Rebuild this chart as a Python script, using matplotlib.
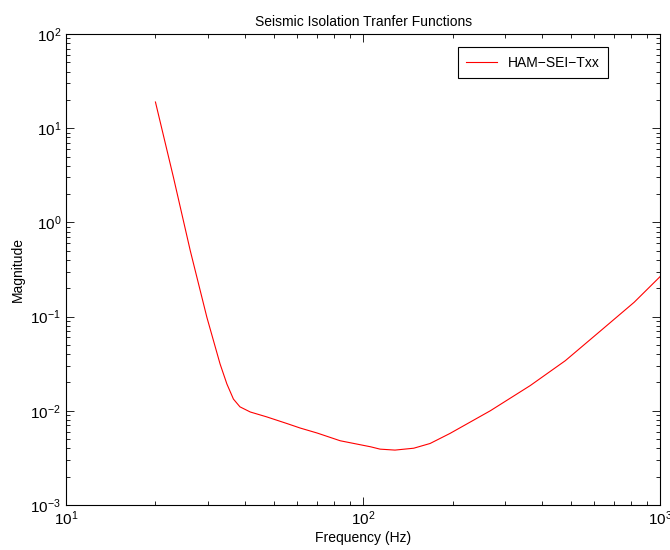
import matplotlib
matplotlib.use("Agg")
import matplotlib.pyplot as plt
import numpy as np

plt.rcParams['font.family'] = ['Liberation Sans', 'DejaVu Sans']
plt.rcParams['mathtext.fontset'] = 'custom'
plt.rcParams['mathtext.rm'] = 'Liberation Sans'
plt.rcParams['mathtext.it'] = 'Liberation Sans:italic'

# values
freq = [20, 23, 26.2, 29.8, 33, 34.8, 36.6, 38.5, 41.7, 47.4, 55.5, 61.4,
        70, 83.7, 106, 114, 128, 148, 168, 196, 268, 365, 479, 631, 817, 1000]
mag = [19, 3.0, 0.50, 0.098, 0.0314, 0.0192, 0.0133, 0.0110, 0.0097, 0.0086,
       0.0073, 0.00655, 0.0058, 0.0048, 0.00414, 0.00391, 0.00382, 0.0040,
       0.00449, 0.00574, 0.0100, 0.0185, 0.034, 0.071, 0.142, 0.267]
series_name = "HAM\u2212SEI\u2212Txx"

fig = plt.figure(figsize=(6.7, 5.5), dpi=100)
ax = fig.add_axes([0.0985, 0.082, 0.887, 0.856])

ax.loglog(freq, mag, color='#ff0000', linewidth=0.8, label=series_name)
ax.set_xlim(10, 1000)
ax.set_ylim(1e-3, 1e2)

ax.tick_params(which='both', direction='in', top=True, right=True, labelsize=11)
ax.tick_params(which='major', length=6, width=0.6)
ax.tick_params(which='minor', length=3, width=0.6)
for sp in ax.spines.values():
    sp.set_linewidth(0.8)

ax.set_title("Seismic Isolation Tranfer Functions", fontsize=10)
ax.set_xlabel("Frequency (Hz)", fontsize=10, labelpad=2)
ax.set_ylabel("Magnitude", fontsize=10)

leg = ax.legend(loc='upper right', bbox_to_anchor=(0.912, 0.972), borderaxespad=0,
                fancybox=False, edgecolor='black', fontsize=10, handlelength=2.2,
                borderpad=0.6, framealpha=1)
leg.get_frame().set_linewidth(0.8)

fig.savefig("out.png", dpi=100)
